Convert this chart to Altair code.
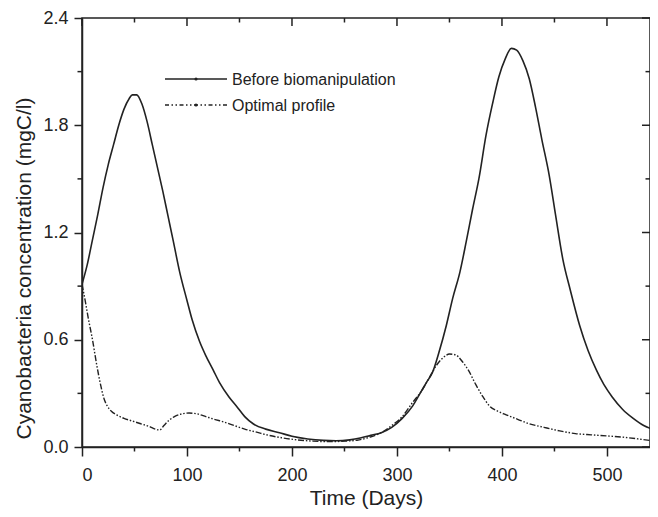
import altair as alt
import pandas as pd

series_names = ["Before biomanipulation", "Optimal profile"]

before_t = [0, 5, 10, 15, 20, 25, 30, 35, 40, 45, 48, 52, 57, 62, 67, 72, 77, 82, 87, 93,
            100, 105, 112, 118, 125, 131, 140, 147, 155, 163, 175, 188, 200, 215, 230, 242,
            255, 265, 275, 285, 295, 305, 315, 322, 328, 334, 340, 347, 353, 360, 366, 372,
            378, 385, 391, 397, 403, 409, 414, 420, 426, 432, 438, 445, 451, 458, 465, 474,
            482, 490, 497, 505, 515, 525, 535, 550]
before_v = [0.91, 1.02, 1.16, 1.30, 1.45, 1.58, 1.69, 1.80, 1.89, 1.95, 1.97, 1.97, 1.92, 1.82,
            1.69, 1.56, 1.43, 1.29, 1.15, 0.98, 0.82, 0.71, 0.59, 0.51, 0.43, 0.36, 0.28, 0.23,
            0.17, 0.13, 0.10, 0.08, 0.06, 0.045, 0.037, 0.035, 0.04, 0.05, 0.065, 0.08, 0.11,
            0.16, 0.23, 0.30, 0.36, 0.42, 0.53, 0.68, 0.83, 0.98, 1.15, 1.33, 1.50, 1.75, 1.92,
            2.07, 2.17, 2.23, 2.22, 2.16, 2.06, 1.90, 1.72, 1.52, 1.30, 1.05, 0.88, 0.68, 0.54,
            0.43, 0.35, 0.28, 0.21, 0.16, 0.12, 0.09]

opt_t = [0, 3, 6, 10, 14, 18, 21, 24, 28, 33, 40, 48, 56, 64, 70, 74, 78, 83, 88, 95, 102,
         110, 118, 126, 135, 145, 155, 165, 178, 190, 205, 220, 235, 250, 262, 274, 285, 295,
         305, 315, 323, 331, 338, 344, 350, 356, 362, 368, 375, 382, 388, 396, 404, 415, 426,
         440, 455, 470, 485, 500, 515, 530, 550]
opt_v = [0.91, 0.82, 0.72, 0.60, 0.46, 0.34, 0.27, 0.23, 0.20, 0.18, 0.16, 0.145, 0.13, 0.115,
         0.10, 0.095, 0.12, 0.15, 0.17, 0.185, 0.19, 0.185, 0.17, 0.155, 0.14, 0.12, 0.10,
         0.085, 0.065, 0.052, 0.04, 0.033, 0.03, 0.033, 0.038, 0.055, 0.08, 0.12, 0.17, 0.25,
         0.31, 0.39, 0.46, 0.50, 0.52, 0.515, 0.48, 0.43, 0.35, 0.28, 0.23, 0.20, 0.18, 0.155,
         0.13, 0.11, 0.09, 0.075, 0.068, 0.062, 0.055, 0.045, 0.03]

x_major = [0, 100, 200, 300, 400, 500]
x_minor = [50, 150, 250, 350, 450]
y_major = [0.0, 0.6, 1.2, 1.8, 2.4]
y_minor = [0.3, 0.9, 1.5, 2.1]
x_title = "Time (Days)"
y_title = "Cyanobacteria concentration (mgC/l)"

W, H = 568, 429
FONT = "Liberation Sans"
INK = "#222222"
DASH = [6, 1.8, 1.5, 1.8, 1.5, 1.8]

xscale = alt.Scale(domain=[0, 541], nice=False, zero=False)
yscale = alt.Scale(domain=[0, 2.4], nice=False)

df_b = pd.DataFrame({"t": before_t, "v": before_v})
df_o = pd.DataFrame({"t": opt_t, "v": opt_v})

x_axis = alt.Axis(values=x_major, format="d", tickSize=9, labelPadding=10,
                  titlePadding=3, labelFontSize=18, titleFontSize=21)
y_axis = alt.Axis(values=y_major, format=".1f", tickSize=8, labelPadding=6,
                  titlePadding=8, labelFontSize=18, titleFontSize=21,
                  titleY=250, titleAlign="center")

X = alt.X("t:Q", scale=xscale, axis=x_axis, title=x_title)
Y = alt.Y("v:Q", scale=yscale, axis=y_axis, title=y_title)

line_b = alt.Chart(df_b).mark_line(color=INK, strokeWidth=1.6, interpolate="monotone",
                                   clip=True).encode(x=X, y=Y)
line_o = alt.Chart(df_o).mark_line(color=INK, strokeWidth=1.4, strokeDash=DASH,
                                   interpolate="monotone", clip=True).encode(x=X, y=Y)

xmaj_df = pd.DataFrame({"t": x_major})
xmin_df = pd.DataFrame({"t": x_minor})
ymaj_df = pd.DataFrame({"v": y_major})
ymin_df = pd.DataFrame({"v": y_minor})

def xticks(df, y0, y1):
    return alt.Chart(df).mark_rule(color=INK, strokeWidth=1.5).encode(
        x=X, y=alt.value(y0), y2=alt.value(y1))

def yticks(df, x0, x1):
    return alt.Chart(df).mark_rule(color=INK, strokeWidth=1.5).encode(
        y=Y, x=alt.value(x0), x2=alt.value(x1))

tick_layers = [
    xticks(xmaj_df, 0, 8), xticks(xmin_df, 0, 4.5),          # top, inward
    xticks(xmin_df, H, H + 4.5),                               # bottom minor, outward
    yticks(ymaj_df, W, W - 8), yticks(ymin_df, W, W - 4.5),    # right, inward
    yticks(ymin_df, 0, -4.5),                                  # left minor, outward
]

leg_rows = [61, 87]
legend_layers = []
for i, name in enumerate(series_names):
    ldf = pd.DataFrame({"name": [name]})
    rule_kw = dict(color=INK, strokeWidth=1.4)
    if i == 1:
        rule_kw["strokeDash"] = [4, 2.5, 1.5, 2.5, 1.5, 2.5]
    legend_layers.append(alt.Chart(ldf).mark_rule(**rule_kw).encode(
        x=alt.value(83), x2=alt.value(145), y=alt.value(leg_rows[i])))
    legend_layers.append(alt.Chart(ldf).mark_point(filled=True, color=INK, size=10,
                                                     shape="circle", opacity=1).encode(
        x=alt.value(114), y=alt.value(leg_rows[i])))
    legend_layers.append(alt.Chart(ldf).mark_text(align="left", baseline="middle",
                                                   font=FONT, fontSize=16, color=INK).encode(
        x=alt.value(150), y=alt.value(leg_rows[i] + 1), text="name:N"))

chart = alt.layer(line_b, line_o, *tick_layers, *legend_layers).properties(
    width=W, height=H,
    padding={"left": 74, "top": 10, "right": 0, "bottom": 62},
    autosize=alt.AutoSizeParams(type="none"),
).configure_view(
    stroke=INK, strokeWidth=1.5
).configure_axis(
    labelFont=FONT, titleFont=FONT, labelColor=INK, titleColor=INK,
    titleFontWeight="normal", domainColor=INK, tickColor=INK,
    domainWidth=1.5, tickWidth=1.5, grid=False,
)

chart.save("out.html", embed_options={"renderer": "svg", "actions": False})
